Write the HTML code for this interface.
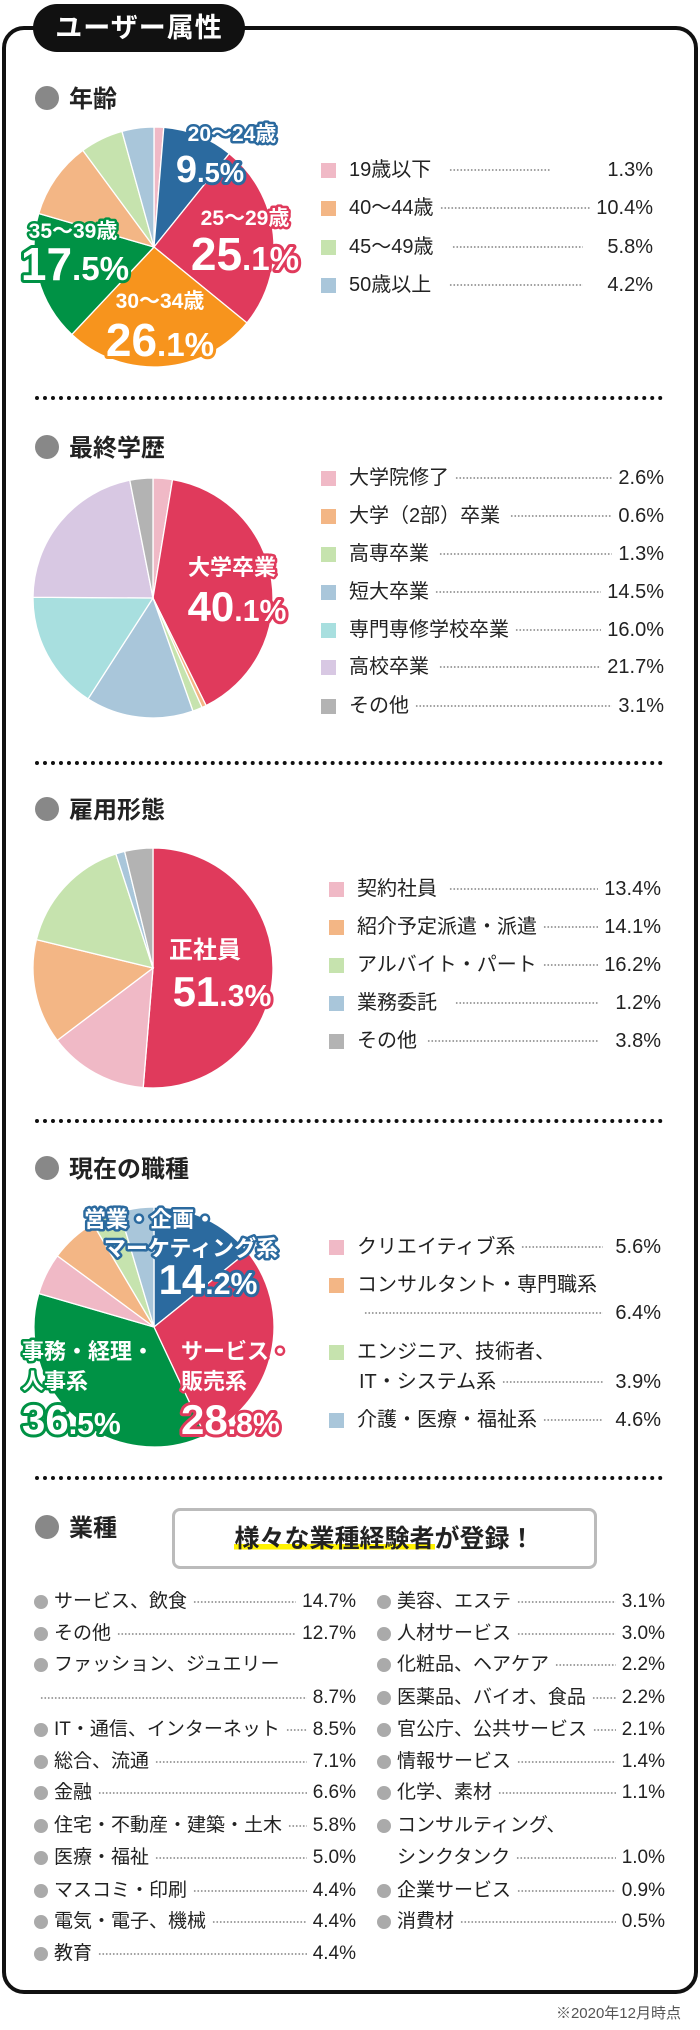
<!DOCTYPE html>
<html><head><meta charset="utf-8">
<style>
*{margin:0;padding:0;box-sizing:border-box}
body{width:700px;height:2030px;background:#fff;position:relative;overflow:hidden;font-family:"Liberation Sans","Noto Sans CJK JP",sans-serif;color:#222}
.frame{position:absolute;left:2px;top:26px;width:696px;height:1968px;border:4px solid #111;border-radius:22px}
.tab{position:absolute;left:33px;top:4px;width:212px;height:48px;background:#111;border-radius:24px;color:#fff;font-weight:bold;font-size:27px;text-align:center;line-height:48px;letter-spacing:1px}
.h{position:absolute;left:35px;font-size:24px;font-weight:bold;color:#222;line-height:30px;height:30px}
.h::before{content:"";display:inline-block;width:24px;height:24px;border-radius:50%;background:#888;vertical-align:-3px;margin-right:10px}
.row{position:absolute;display:flex;align-items:center;font-size:20px;line-height:26px;height:26px;color:#222;white-space:nowrap}
.sq{width:15px;height:15px;margin-right:13px;flex:none}
.ld{flex:1;margin:0 6px;height:2px;align-self:center;background:radial-gradient(circle,#999 0.8px,transparent 1.1px) 0 0/3.5px 2px repeat-x}
.v{flex:none}
.sep{position:absolute;left:35px;width:628px;border-top:4px dotted #111;height:0}
.ir{position:absolute;display:flex;align-items:center;font-size:19px;line-height:26px;height:26px;white-space:nowrap;color:#222}
.ir .b{width:14px;height:14px;border-radius:50%;background:#aaa;margin-right:6px;flex:none}
.box{position:absolute;left:172px;top:1508px;width:425px;height:61px;border:3px solid #bbb;border-radius:8px;text-align:center;font-size:25px;font-weight:bold;line-height:56px}
.box span{background:linear-gradient(transparent 68%,#fff200 68%,#fff200 88%,transparent 88%)}
svg{position:absolute;left:0;top:0}
.lb{font-weight:bold;fill:#fff;paint-order:stroke;stroke-linejoin:round;font-family:"Liberation Sans","Noto Sans CJK JP",sans-serif}
</style></head><body>
<div class="frame"></div>
<div class="tab">ユーザー属性</div>

<div class="h" style="top:85px">年齢</div>
<div class="sep" style="top:396px"></div>
<div class="h" style="top:434px">最終学歴</div>
<div class="sep" style="top:761px"></div>
<div class="h" style="top:796px">雇用形態</div>
<div class="sep" style="top:1119px"></div>
<div class="h" style="top:1155px">現在の職種</div>
<div class="sep" style="top:1476px"></div>
<div class="h" style="top:1514px">業種</div>
<div class="box"><span>様々な業種経験者</span>が登録！</div>

<svg width="700" height="2030" id="s"></svg>

<div class="row" style="left:321px;width:332px;top:157px"><i class="sq" style="background:#f0b9c6"></i>19歳以下<i class="ld" style="margin-left:18px"></i><span class="v" style="margin-left:50px">1.3%</span></div>
<div class="row" style="left:321px;width:332px;top:195px"><i class="sq" style="background:#f3b685"></i>40～44歳<i class="ld"></i><span class="v">10.4%</span></div>
<div class="row" style="left:321px;width:332px;top:234px"><i class="sq" style="background:#c6e3ae"></i>45～49歳<i class="ld" style="margin-left:18px"></i><span class="v" style="margin-left:18px">5.8%</span></div>
<div class="row" style="left:321px;width:332px;top:272px"><i class="sq" style="background:#a9c6da"></i>50歳以上<i class="ld" style="margin-left:18px"></i><span class="v" style="margin-left:18px">4.2%</span></div>

<div class="row" style="left:321px;width:343px;top:465px"><i class="sq" style="background:#f0b9c6"></i>大学院修了<i class="ld"></i><span class="v">2.6%</span></div>
<div class="row" style="left:321px;width:343px;top:503px"><i class="sq" style="background:#f3b685"></i>大学（2部）卒業<i class="ld" style="margin-left:10px"></i><span class="v">0.6%</span></div>
<div class="row" style="left:321px;width:343px;top:541px"><i class="sq" style="background:#c6e3ae"></i>高専卒業<i class="ld" style="margin-left:10px"></i><span class="v">1.3%</span></div>
<div class="row" style="left:321px;width:343px;top:579px"><i class="sq" style="background:#a9c6da"></i>短大卒業<i class="ld"></i><span class="v">14.5%</span></div>
<div class="row" style="left:321px;width:343px;top:617px"><i class="sq" style="background:#a8dfdf"></i>専門専修学校卒業<i class="ld"></i><span class="v">16.0%</span></div>
<div class="row" style="left:321px;width:343px;top:654px"><i class="sq" style="background:#d8c8e3"></i>高校卒業<i class="ld" style="margin-left:10px"></i><span class="v">21.7%</span></div>
<div class="row" style="left:321px;width:343px;top:693px"><i class="sq" style="background:#b3b3b3"></i>その他<i class="ld"></i><span class="v">3.1%</span></div>

<div class="row" style="left:329px;width:332px;top:876px"><i class="sq" style="background:#f0b9c6"></i>契約社員<i class="ld" style="margin-left:12px"></i><span class="v">13.4%</span></div>
<div class="row" style="left:329px;width:332px;top:914px"><i class="sq" style="background:#f3b685"></i>紹介予定派遣・派遣<i class="ld"></i><span class="v">14.1%</span></div>
<div class="row" style="left:329px;width:332px;top:952px"><i class="sq" style="background:#c6e3ae"></i>アルバイト・パート<i class="ld"></i><span class="v">16.2%</span></div>
<div class="row" style="left:329px;width:332px;top:990px"><i class="sq" style="background:#a9c6da"></i>業務委託<i class="ld" style="margin-left:18px"></i><span class="v" style="margin-left:10px">1.2%</span></div>
<div class="row" style="left:329px;width:332px;top:1028px"><i class="sq" style="background:#b3b3b3"></i>その他<i class="ld" style="margin-left:10px"></i><span class="v" style="margin-left:10px">3.8%</span></div>

<div class="row" style="left:329px;width:332px;top:1234px"><i class="sq" style="background:#f0b9c6"></i>クリエイティブ系<i class="ld"></i><span class="v" style="margin-left:6px">5.6%</span></div>
<div class="row" style="left:329px;width:332px;top:1272px"><i class="sq" style="background:#f3b685"></i>コンサルタント・専門職系</div>
<div class="row" style="left:359px;width:302px;top:1300px"><i class="ld" style="margin-left:5px"></i><span class="v" style="margin-left:6px">6.4%</span></div>
<div class="row" style="left:329px;width:332px;top:1339px"><i class="sq" style="background:#c6e3ae"></i>エンジニア、技術者、</div>
<div class="row" style="left:359px;width:302px;top:1369px">IT・システム系<i class="ld"></i><span class="v" style="margin-left:6px">3.9%</span></div>
<div class="row" style="left:329px;width:332px;top:1407px"><i class="sq" style="background:#a9c6da"></i>介護・医療・福祉系<i class="ld"></i><span class="v" style="margin-left:6px">4.6%</span></div>

<div id="ind"></div>
<div style="position:absolute;right:19px;top:2002px;font-size:15px;color:#555">※2020年12月時点</div>

<script>
var NS="http://www.w3.org/2000/svg",s=document.getElementById('s');
function pie(cx,cy,r,d){var a=0;d.forEach(function(p){var a0=a/100*2*Math.PI;a+=p[0];var a1=a/100*2*Math.PI;
var x0=cx+r*Math.sin(a0),y0=cy-r*Math.cos(a0),x1=cx+r*Math.sin(a1),y1=cy-r*Math.cos(a1);
var e=document.createElementNS(NS,'path');e.setAttribute('d','M'+cx+','+cy+'L'+x0+','+y0+'A'+r+','+r+' 0 '+((a1-a0)>Math.PI?1:0)+' 1 '+x1+','+y1+'Z');
e.setAttribute('fill',p[1]);e.setAttribute('stroke','#fff');e.setAttribute('stroke-width','1.3');s.appendChild(e);});}
var PK='#f0b9c6',OL='#f3b685',GL='#c6e3ae',BL='#a9c6da',R='#e03a5c',O='#f7941d',G='#009245',B='#2b6a9f',C='#a8dfdf',L='#d8c8e3',GR='#b3b3b3';
pie(154,247,120,[[1.3,PK],[9.5,B],[25.1,R],[26.1,O],[17.5,G],[10.4,OL],[5.8,GL],[4.3,BL]]);
pie(153,598,120,[[2.6,PK],[40.1,R],[0.6,OL],[1.3,GL],[14.5,BL],[16.0,C],[21.8,L],[3.1,GR]]);
pie(153,968,120,[[51.3,R],[13.4,PK],[14.1,OL],[16.2,GL],[1.2,BL],[3.8,GR]]);
pie(154,1327,120,[[14.2,B],[28.8,R],[36.5,G],[5.6,PK],[6.4,OL],[3.9,GL],[4.6,BL]]);
function t(x,y,str,sz,col,anchor,small){var e=document.createElementNS(NS,'text');e.setAttribute('x',x);e.setAttribute('y',y);
e.setAttribute('class','lb');e.setAttribute('font-size',sz);e.setAttribute('stroke',col);e.setAttribute('stroke-width',sz>30?6:5);
e.setAttribute('text-anchor',anchor||'middle');
if(small){var m=str.match(/^(\d+)(\.\d%)$/);var a=document.createElementNS(NS,'tspan');a.textContent=m[1];var b=document.createElementNS(NS,'tspan');b.textContent=m[2];b.setAttribute('font-size',sz*0.72);e.appendChild(a);e.appendChild(b);}else e.textContent=str;s.appendChild(e);}
t(232,141,'20～24歳',21,B);t(210,182,'9.5%',38,B,'middle',1);
t(245,225,'25～29歳',21,R);t(245,270,'25.1%',46,R,'middle',1);
t(73,238,'35～39歳',21,G);t(75,280,'17.5%',46,G,'middle',1);
t(160,308,'30～34歳',21,O);t(160,356,'26.1%',46,O,'middle',1);
t(232,575,'大学卒業',22,R);t(237,621,'40.1%',42,R,'middle',1);
t(205,958,'正社員',24,R);t(222,1006,'51.3%',42,R,'middle',1);
t(150,1227,'営業・企画・',22,B);t(191,1256,'マーケティング系',22,B);t(208,1294,'14.2%',42,B,'middle',1);
t(22,1359,'事務・経理・',22,G,'start');t(22,1389,'人事系',22,G,'start');t(22,1434,'36.5%',42,G,'start',1);
t(181,1359,'サービス・',22,R,'start');t(181,1389,'販売系',22,R,'start');t(181,1434,'28.8%',42,R,'start',1);
var L1=[['サービス、飲食','14.7%'],['その他','12.7%'],['ファッション、ジュエリー',null],['','8.7%'],['IT・通信、インターネット','8.5%'],['総合、流通','7.1%'],['金融','6.6%'],['住宅・不動産・建築・土木','5.8%'],['医療・福祉','5.0%'],['マスコミ・印刷','4.4%'],['電気・電子、機械','4.4%'],['教育','4.4%']];
var L2=[['美容、エステ','3.1%'],['人材サービス','3.0%'],['化粧品、ヘアケア','2.2%'],['医薬品、バイオ、食品','2.2%'],['官公庁、公共サービス','2.1%'],['情報サービス','1.4%'],['化学、素材','1.1%'],['コンサルティング、',null],['　シンクタンク','1.0%'],['企業サービス','0.9%'],['消費材','0.5%']];
var Y=[1602,1634,1665,1698,1730,1762,1793,1826,1858,1891,1922,1954],ind=document.getElementById('ind');
function col(list,x,w){list.forEach(function(it,i){var d=document.createElement('div');d.className='ir';d.style.left=x+'px';d.style.width=w+'px';d.style.top=(Y[i]-13)+'px';
var h='';if(it[0]&&it[0][0]!='　')h+='<i class="b"></i>'+it[0];else if(it[0])h+='<span style="margin-left:20px">'+it[0].slice(1)+'</span>';else h+='<span style="width:0"></span>';
if(it[1])h+='<i class="ld"></i><span class="v">'+it[1]+'</span>';d.innerHTML=h;ind.appendChild(d);});}
col(L1,34,322);col(L2,377,288);
</script>
</body></html>
